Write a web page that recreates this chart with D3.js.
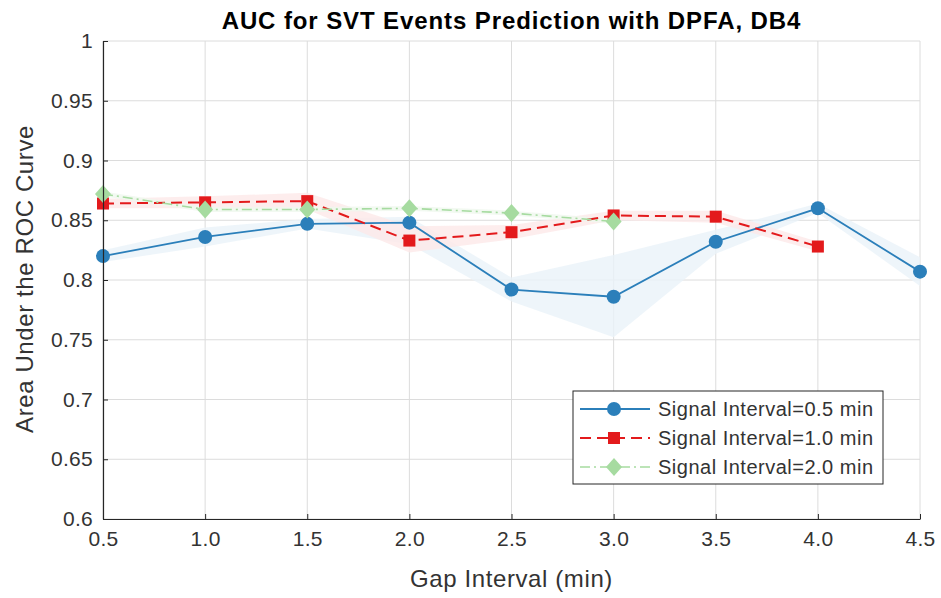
<!DOCTYPE html>
<html>
<head>
<meta charset="utf-8">
<script src="https://cdn.jsdelivr.net/npm/d3@7"></script>
<style>
  body { margin: 0; background: #fff; }
  svg text { font-family: "Liberation Sans", Arial, sans-serif; }
</style>
</head>
<body>
<svg id="chart" width="941" height="598"></svg>
<script>
const gapIntervals = [0.5, 1.0, 1.5, 2.0, 2.5, 3.0, 3.5, 4.0, 4.5];
const xTickLabels = ["0.5", "1.0", "1.5", "2.0", "2.5", "3.0", "3.5", "4.0", "4.5"];
const yTicks = [0.6, 0.65, 0.7, 0.75, 0.8, 0.85, 0.9, 0.95, 1];

const seriesNames = ["Signal Interval=0.5 min", "Signal Interval=1.0 min", "Signal Interval=2.0 min"];

const auc05 = [0.820, 0.836, 0.847, 0.848, 0.792, 0.786, 0.832, 0.860, 0.807];
const lo05  = [0.815, 0.828, 0.843, 0.830, 0.782, 0.752, 0.822, 0.856, 0.795];
const hi05  = [0.825, 0.844, 0.851, 0.853, 0.802, 0.821, 0.842, 0.864, 0.819];

const auc10 = [0.864, 0.865, 0.866, 0.833, 0.840, 0.854, 0.853, 0.828];
const lo10  = [0.860, 0.860, 0.859, 0.823, 0.834, 0.850, 0.848, 0.824];
const hi10  = [0.868, 0.870, 0.873, 0.845, 0.846, 0.858, 0.858, 0.832];

const auc20 = [0.872, 0.859, 0.859, 0.860, 0.856, 0.849];
const lo20  = [0.870, 0.857, 0.857, 0.858, 0.854, 0.847];
const hi20  = [0.874, 0.861, 0.861, 0.862, 0.858, 0.851];

const svg = d3.select("#chart");
const m = {left: 103, right: 21, top: 41, bottom: 79};
const W = 941, H = 598;

const x = d3.scaleLinear().domain([0.5, 4.5]).range([m.left, W - m.right]);
const y = d3.scaleLinear().domain([0.6, 1]).range([H - m.bottom, m.top]);

// grid
const grid = svg.append("g");
grid.selectAll(".gx").data(gapIntervals).enter().append("line")
  .attr("x1", d => x(d)).attr("x2", d => x(d))
  .attr("y1", y(0.6)).attr("y2", y(1))
  .attr("stroke", "#dcdcdc").attr("stroke-width", 1);
grid.selectAll(".gy").data(yTicks).enter().append("line")
  .attr("x1", x(0.5)).attr("x2", x(4.5))
  .attr("y1", d => y(d)).attr("y2", d => y(d))
  .attr("stroke", "#dcdcdc").attr("stroke-width", 1);

const series = [
  {vals: auc05, lo: lo05, hi: hi05, color: "#2b7fba", band: "#eaf3f9", dash: null, width: 1.8, marker: "circle"},
  {vals: auc10, lo: lo10, hi: hi10, color: "#e31a1c", band: "#fce8e8", dash: "11,6", width: 2, marker: "square"},
  {vals: auc20, lo: lo20, hi: hi20, color: "#a6dba0", band: "#eff8ee", dash: "10,4,2,4", width: 1.6, marker: "diamond"}
];

// bands
series.forEach(s => {
  const pts = s.vals.map((v, i) => ({x: gapIntervals[i], lo: s.lo[i], hi: s.hi[i]}));
  svg.append("path").datum(pts)
    .attr("d", d3.area().x(d => x(d.x)).y0(d => y(d.lo)).y1(d => y(d.hi)))
    .attr("fill", s.band).attr("opacity", 0.8);
});

function drawMarker(g, type, cx, cy, color) {
  if (type === "circle") {
    g.append("circle").attr("cx", cx).attr("cy", cy).attr("r", 7).attr("fill", color);
  } else if (type === "square") {
    g.append("rect").attr("x", cx - 6).attr("y", cy - 6).attr("width", 12).attr("height", 12).attr("fill", color);
  } else {
    g.append("path").attr("d", `M${cx},${cy-9}L${cx+8},${cy}L${cx},${cy+9}L${cx-8},${cy}Z`).attr("fill", color);
  }
}

// lines + markers
series.forEach(s => {
  const pts = s.vals.map((v, i) => [gapIntervals[i], v]);
  svg.append("path").datum(pts)
    .attr("d", d3.line().x(d => x(d[0])).y(d => y(d[1])))
    .attr("fill", "none").attr("stroke", s.color).attr("stroke-width", s.width)
    .attr("stroke-dasharray", s.dash);
  const g = svg.append("g");
  pts.forEach(p => drawMarker(g, s.marker, x(p[0]), y(p[1]), s.color));
});

// axes
const xAxis = d3.axisBottom(x).tickValues(gapIntervals).tickFormat((d, i) => xTickLabels[i]).tickSizeInner(-5).tickSizeOuter(0).tickPadding(12);
const gx = svg.append("g").attr("transform", `translate(0,${y(0.6)})`).call(xAxis);
gx.select(".domain").attr("stroke", "#262626").attr("stroke-width", 1.2);
gx.selectAll(".tick line").attr("stroke", "#262626");
gx.selectAll("text").attr("font-size", 21).attr("fill", "#333").attr("letter-spacing", 0.3).attr("font-family", "Liberation Sans, Arial, sans-serif");

const yAxis = d3.axisLeft(y).tickValues(yTicks).tickFormat(d => d3.format("~g")(d)).tickSizeInner(-5).tickSizeOuter(0).tickPadding(10);
const gy = svg.append("g").attr("transform", `translate(${x(0.5)},0)`).call(yAxis);
gy.select(".domain").attr("stroke", "#262626").attr("stroke-width", 1.2);
gy.selectAll(".tick line").attr("stroke", "#262626");
gy.selectAll("text").attr("font-size", 21).attr("fill", "#333").attr("letter-spacing", 0.3).attr("font-family", "Liberation Sans, Arial, sans-serif");

// title
svg.append("text").attr("x", (m.left + W - m.right) / 2).attr("y", 29)
  .attr("text-anchor", "middle").attr("font-size", 24).attr("font-weight", "bold").attr("fill", "#000")
  .attr("letter-spacing", 0.9)
  .text("AUC for SVT Events Prediction with DPFA, DB4");

// x label
svg.append("text").attr("x", (m.left + W - m.right) / 2).attr("y", 587)
  .attr("text-anchor", "middle").attr("font-size", 24).attr("fill", "#333")
  .attr("letter-spacing", 0.6)
  .text("Gap Interval (min)");

// y label
svg.append("text")
  .attr("transform", `translate(33,${(y(0.6) + y(1)) / 2 - 1}) rotate(-90)`)
  .attr("text-anchor", "middle").attr("font-size", 24).attr("fill", "#333")
  .attr("letter-spacing", 0.6)
  .text("Area Under the ROC Curve");

// legend
const lg = svg.append("g").attr("transform", "translate(573,391)");
lg.append("rect").attr("width", 310).attr("height", 93).attr("fill", "#fff").attr("stroke", "#262626").attr("stroke-width", 1);
series.forEach((s, i) => {
  const ly = 18 + i * 29;
  lg.append("line").attr("x1", 7).attr("x2", 77).attr("y1", ly).attr("y2", ly)
    .attr("stroke", s.color).attr("stroke-width", s.width).attr("stroke-dasharray", s.dash);
  drawMarker(lg, s.marker, 41, ly, s.color);
  lg.append("text").attr("x", 85).attr("y", ly + 7)
    .attr("font-size", 20).attr("fill", "#333").attr("letter-spacing", 0.5).text(seriesNames[i]);
});
</script>
</body>
</html>
